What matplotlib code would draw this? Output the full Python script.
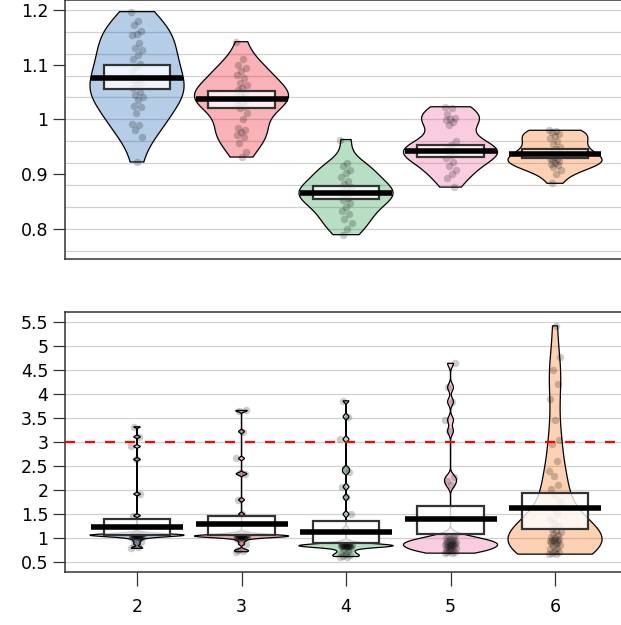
import numpy as np
import matplotlib
matplotlib.use("Agg")
import matplotlib.pyplot as plt

plt.rcParams["font.family"] = ["DejaVu Sans"]

groups = ["2", "3", "4", "5", "6"]
fills = ["#0C5BB0", "#EE0011", "#15983D", "#EC579A", "#FA6B09"]

# upper panel: raw observations per group
top_g2 = [1.197, 1.180, 1.173, 1.162, 1.157, 1.154, 1.140, 1.131, 1.126, 1.118,
          1.110, 1.102, 1.096, 1.089, 1.078, 1.072, 1.067, 1.062, 1.057, 1.050,
          1.044, 1.041, 1.035, 1.024, 1.022, 1.011, 0.992, 0.989, 0.980, 0.968, 0.922]
top_g3 = [1.142, 1.110, 1.099, 1.093, 1.089, 1.081, 1.075, 1.066, 1.063, 1.058,
          1.053, 1.048, 1.045, 1.042, 1.040, 1.037, 1.035, 1.032, 1.029, 1.025,
          1.020, 1.011, 1.000, 0.985, 0.980, 0.976, 0.972, 0.968, 0.956, 0.941, 0.931]
top_g4 = [0.963, 0.921, 0.915, 0.908, 0.902, 0.895, 0.888, 0.882, 0.877, 0.872,
          0.869, 0.866, 0.863, 0.860, 0.856, 0.852, 0.847, 0.840, 0.833, 0.826,
          0.818, 0.810, 0.800, 0.789]
top_g5 = [1.023, 1.020, 1.010, 1.003, 1.000, 0.998, 0.995, 0.990, 0.960, 0.953,
          0.950, 0.948, 0.946, 0.944, 0.942, 0.940, 0.938, 0.935, 0.930, 0.922,
          0.915, 0.908, 0.900, 0.893, 0.876]
top_g6 = [0.980, 0.979, 0.977, 0.974, 0.970, 0.965, 0.960, 0.955, 0.950, 0.945,
          0.940, 0.936, 0.932, 0.929, 0.927, 0.925, 0.923, 0.921, 0.919, 0.916,
          0.912, 0.907, 0.900, 0.883]
top_mean = [1.076, 1.037, 0.866, 0.942, 0.937]
top_lo = [1.056, 1.020, 0.854, 0.931, 0.930]
top_hi = [1.099, 1.052, 0.878, 0.953, 0.945]

# lower panel: raw observations per group
bot_g2 = [0.79, 0.81, 0.88, 0.93, 0.97, 1.00, 1.01, 1.02, 1.03, 1.03, 1.04, 1.04,
          1.05, 1.05, 1.05, 1.06, 1.06, 1.06, 1.06, 1.07, 1.07, 1.07, 1.07, 1.08,
          1.08, 1.08, 1.09, 1.09, 1.10, 1.11, 1.12,
          1.47, 1.92, 2.64, 2.91, 3.11, 3.32]
bot_g3 = [0.72, 0.74, 0.76, 0.88, 0.94, 0.98, 1.00, 1.01, 1.02, 1.02, 1.03, 1.03,
          1.03, 1.04, 1.04, 1.04, 1.04, 1.05, 1.05, 1.05, 1.05, 1.06, 1.06, 1.06,
          1.07, 1.07, 1.08, 1.09, 1.10, 1.12,
          1.50, 1.80, 2.33, 2.35, 2.66, 3.22, 3.65, 3.66]
bot_g4 = [0.62, 0.62, 0.63, 0.65, 0.67, 0.70, 0.73, 0.76, 0.79,
          0.82, 0.83, 0.83, 0.83, 0.84, 0.84, 0.84, 0.84, 0.84, 0.85, 0.85, 0.85,
          0.85, 0.86, 0.86, 0.87, 0.88, 0.90, 0.93,
          1.20, 1.50, 1.85, 2.07, 2.38, 2.45, 3.06, 3.53, 3.86]
bot_g5 = [0.69, 0.70, 0.71, 0.72, 0.74, 0.75, 0.76, 0.78, 0.79, 0.80, 0.81, 0.83,
          0.84, 0.85, 0.86, 0.87, 0.88, 0.89, 0.90, 0.91, 0.92, 0.93, 0.94, 0.95,
          0.97, 0.98, 1.00, 1.02, 1.04, 1.07,
          2.10, 2.20, 2.27, 3.23, 3.46, 3.84, 4.14, 4.64]
bot_g6 = [0.67, 0.68, 0.70, 0.72, 0.74, 0.77, 0.80, 0.83, 0.86, 0.88, 0.90, 0.92,
          0.94, 0.95, 0.96, 0.97, 0.99, 1.01, 1.03, 1.06, 1.09, 1.12, 1.16, 1.20,
          1.25, 1.32, 1.40, 1.50, 1.62, 1.76, 1.90, 2.02, 2.11, 2.30, 2.39, 2.60,
          2.96, 3.05, 3.46, 3.89, 4.22, 4.50, 4.78, 5.42]
bot_mean = [1.24, 1.29, 1.14, 1.40, 1.64]
bot_lo = [1.07, 1.07, 0.91, 1.08, 1.19]
bot_hi = [1.41, 1.46, 1.36, 1.68, 1.95]


def nrd0(x):
    sd = np.std(x, ddof=1)
    q75, q25 = np.percentile(x, [75, 25])
    lo = min(sd, (q75 - q25) / 1.34)
    if lo <= 0:
        lo = sd
    return 0.9 * lo * len(x) ** -0.2


def bean(ax, pos, vals, color, width=0.45):
    x = np.asarray(vals, float)
    bw = nrd0(x)
    ys = np.linspace(x.min(), x.max(), 800)
    dens = np.exp(-0.5 * ((ys[:, None] - x[None, :]) / bw) ** 2).sum(axis=1)
    half = dens / dens.max() * width
    px = np.concatenate([pos - half, (pos + half)[::-1]])
    py = np.concatenate([ys, ys[::-1]])
    ax.fill(px, py, facecolor=color, alpha=0.3, edgecolor="none", zorder=2)
    ax.fill(px, py, facecolor="none", edgecolor="black", lw=0.9, zorder=2.1)
    # fixed spread so points don't stack on the centre line
    k = np.arange(len(x))
    jit = ((k * 0.6180339) % 1.0 - 0.5) * 0.11
    ax.plot(pos + jit, x, "o", ms=5.4, color="black", alpha=0.2, mec="none", zorder=3)


def panel(ax, data, means, lo, hi, ylim, yticks, grid):
    for y in grid:
        ax.axhline(y, color="#d0d0d0", lw=0.9, zorder=0)
    for i, vals in enumerate(data):
        pos = i + 1
        bean(ax, pos, vals, fills[i])
        ax.add_patch(plt.Rectangle((pos - 0.32, lo[i]), 0.64, hi[i] - lo[i],
                                   facecolor="white", alpha=0.8, edgecolor="none", zorder=4))
        ax.add_patch(plt.Rectangle((pos - 0.32, lo[i]), 0.64, hi[i] - lo[i],
                                   facecolor="none", edgecolor="#333333", lw=1.6, zorder=4.1))
        ax.plot([pos - 0.44, pos + 0.44], [means[i]] * 2, color="black", lw=4,
                solid_capstyle="butt", zorder=5)
    # plot region runs off the right edge of the page
    ax.set_xlim(0.306, 0.306 + 556.5 / 104.5)
    ax.set_ylim(*ylim)
    ax.set_yticks(yticks)
    ax.set_yticklabels(["%g" % t for t in yticks])
    ax.tick_params(axis="y", length=8.5, width=0.9, pad=3, labelsize=12.5, color="#333333")
    ax.spines["right"].set_visible(False)
    for s in ax.spines.values():
        s.set_color("#333333")
        s.set_linewidth(1.1)


fig = plt.figure(figsize=(6.21, 6.25), dpi=100)
ax1 = fig.add_axes([64.5 / 621, 1 - 259 / 625, 556.5 / 621, 259 / 625])
ax2 = fig.add_axes([64.5 / 621, 1 - 572 / 625, 556.5 / 621, 260 / 625])

panel(ax1, [top_g2, top_g3, top_g4, top_g5, top_g6], top_mean, top_lo, top_hi,
      (0.7445, 1.2183), [0.8, 0.9, 1.0, 1.1, 1.2], np.arange(0.76, 1.2001, 0.04))
ax1.set_xticks([])

panel(ax2, [bot_g2, bot_g3, bot_g4, bot_g5, bot_g6], bot_mean, bot_lo, bot_hi,
      (0.298, 5.708), np.arange(0.5, 5.51, 0.5), np.arange(0.5, 5.51, 0.5))
ax2.axhline(3, color="red", lw=1.6, ls=(0, (4.5, 4.5)), zorder=6)
ax2.set_xticks(range(1, 6))
ax2.set_xticklabels(groups)
ax2.tick_params(axis="x", length=10, width=0.9, pad=9, labelsize=12.5, color="#333333")

fig.savefig("out.png", dpi=100)
